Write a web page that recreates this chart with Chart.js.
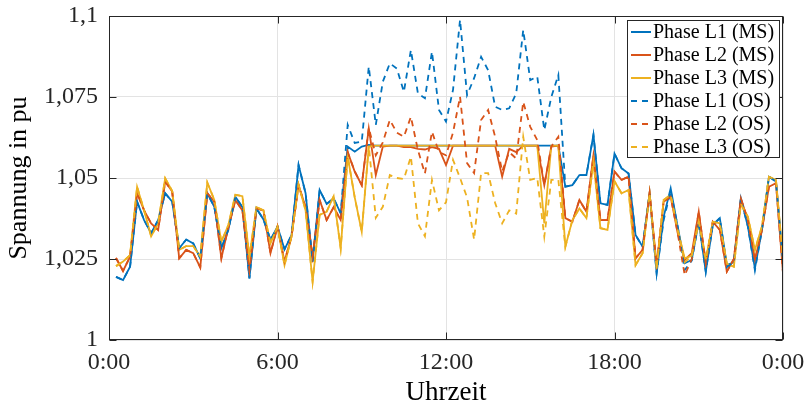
<!DOCTYPE html>
<html>
<head>
<meta charset="utf-8">
<script src="https://cdn.jsdelivr.net/npm/chart.js@4.4.1/dist/chart.umd.min.js"></script>
<style>
  html, body { margin: 0; padding: 0; background: #fff; }
</style>
</head>
<body>
<canvas id="voltageChart" width="808" height="410"></canvas>
<script>
"use strict";

// Tick labels of both axes
const xTickLabels = ["0:00", "6:00", "12:00", "18:00", "0:00"];
const yTickLabels = ["1", "1,025", "1,05", "1,075", "1,1"];

// Series names (legend order)
const seriesNames = [
  "Phase L1 (MS)", "Phase L2 (MS)", "Phase L3 (MS)",
  "Phase L1 (OS)", "Phase L2 (OS)", "Phase L3 (OS)"
];

// Voltage in pu, one value per 15 min, 0:15 ... 24:00 (8 values = 2 h per row)
const l1MS = [
  1.0195, 1.0185, 1.0226, 1.0427, 1.037, 1.033, 1.037, 1.0453,
  1.0427, 1.0283, 1.031, 1.0298, 1.0252, 1.0453, 1.0411, 1.0283,
  1.034, 1.0442, 1.041, 1.019, 1.0406, 1.0372, 1.0309, 1.035,
  1.028, 1.0324, 1.054, 1.0453, 1.0242, 1.0463, 1.042, 1.0437,
  1.0391, 1.0597, 1.0581, 1.0597, 1.0602, 1.06, 1.06, 1.06,
  1.06, 1.06, 1.06, 1.06, 1.06, 1.06, 1.06, 1.06,
  1.06, 1.06, 1.06, 1.06, 1.06, 1.06, 1.06, 1.06,
  1.06, 1.06, 1.06, 1.06, 1.06, 1.06, 1.06, 1.06,
  1.0473, 1.0478, 1.0509, 1.0509, 1.0633, 1.0422, 1.0417, 1.0575,
  1.053, 1.0514, 1.0324, 1.0288, 1.0453, 1.0206, 1.038, 1.0468,
  1.035, 1.0237, 1.0247, 1.0365, 1.0211, 1.0355, 1.0376, 1.0231,
  1.024, 1.0437, 1.035, 1.0221, 1.034, 1.0504, 1.0489, 1.0237
];

const l2MS = [
  1.0253, 1.0213, 1.0257, 1.0454, 1.040, 1.036, 1.034, 1.0489,
  1.0458, 1.0252, 1.0278, 1.0268, 1.0224, 1.0453, 1.0427, 1.0252,
  1.0348, 1.0432, 1.040, 1.0216, 1.0406, 1.040, 1.0268, 1.035,
  1.0242, 1.032, 1.0478, 1.041, 1.0257, 1.0432, 1.037, 1.041,
  1.037, 1.058, 1.052, 1.0478, 1.0653, 1.0509, 1.0597, 1.06,
  1.06, 1.0595, 1.0595, 1.059, 1.0588, 1.0595, 1.059, 1.054,
  1.06, 1.06, 1.06, 1.06, 1.06, 1.06, 1.06, 1.0504,
  1.059, 1.058, 1.06, 1.06, 1.06, 1.0478, 1.0597, 1.06,
  1.0376, 1.0365, 1.0432, 1.0396, 1.057, 1.037, 1.037, 1.052,
  1.0494, 1.0504, 1.0252, 1.0278, 1.0453, 1.0231, 1.0427, 1.0442,
  1.033, 1.0247, 1.0268, 1.0396, 1.0237, 1.0365, 1.034, 1.0211,
  1.025, 1.0437, 1.037, 1.0247, 1.034, 1.0473, 1.0484, 1.0206
];

const l3MS = [
  1.0228, 1.0242, 1.0262, 1.0473, 1.040, 1.032, 1.036, 1.0499,
  1.046, 1.0278, 1.029, 1.029, 1.0257, 1.0486, 1.0432, 1.0303,
  1.0355, 1.0448, 1.0444, 1.0257, 1.041, 1.040, 1.0298, 1.035,
  1.0231, 1.032, 1.048, 1.040, 1.018, 1.0386, 1.0396, 1.0444,
  1.0283, 1.0566, 1.044, 1.0334, 1.0597, 1.06, 1.06, 1.06,
  1.06, 1.06, 1.06, 1.06, 1.06, 1.06, 1.06, 1.06,
  1.06, 1.06, 1.06, 1.06, 1.06, 1.06, 1.06, 1.06,
  1.06, 1.06, 1.06, 1.06, 1.06, 1.036, 1.06, 1.06,
  1.0288, 1.037, 1.0406, 1.0376, 1.055, 1.0345, 1.034, 1.049,
  1.0453, 1.0463, 1.0231, 1.0268, 1.0453, 1.022, 1.0432, 1.0448,
  1.034, 1.0252, 1.026, 1.0365, 1.0247, 1.0365, 1.036, 1.0235,
  1.0226, 1.042, 1.038, 1.0278, 1.035, 1.0504, 1.0494, 1.0247
];

const l1OS = [
  1.0195, 1.0185, 1.0226, 1.0427, 1.037, 1.033, 1.037, 1.0453,
  1.0427, 1.0283, 1.031, 1.0298, 1.0252, 1.0453, 1.0411, 1.0283,
  1.034, 1.0442, 1.041, 1.019, 1.0406, 1.0372, 1.0309, 1.035,
  1.028, 1.0324, 1.054, 1.0453, 1.0242, 1.0463, 1.042, 1.0437,
  1.0391, 1.0664, 1.0608, 1.0612, 1.0844, 1.0664, 1.0797, 1.0854,
  1.0838, 1.0766, 1.0895, 1.0761, 1.0746, 1.089, 1.071, 1.0674,
  1.0772, 1.0988, 1.0756, 1.0808, 1.0874, 1.0833, 1.072, 1.071,
  1.0715, 1.0761, 1.0957, 1.0802, 1.0813, 1.0648, 1.075, 1.0818,
  1.0473, 1.0478, 1.0509, 1.0509, 1.0633, 1.0422, 1.0417, 1.0575,
  1.053, 1.0514, 1.0324, 1.0288, 1.0453, 1.0206, 1.037, 1.046,
  1.035, 1.0216, 1.0245, 1.0365, 1.0211, 1.0355, 1.0376, 1.0225,
  1.024, 1.0437, 1.035, 1.0215, 1.034, 1.0504, 1.0489, 1.0237
];

const l2OS = [
  1.0253, 1.0213, 1.0257, 1.0454, 1.040, 1.036, 1.034, 1.0489,
  1.0458, 1.0252, 1.0278, 1.0268, 1.0224, 1.0453, 1.0427, 1.0252,
  1.0348, 1.0432, 1.040, 1.0216, 1.0406, 1.040, 1.0268, 1.035,
  1.0242, 1.032, 1.0478, 1.041, 1.0257, 1.0432, 1.037, 1.041,
  1.037, 1.058, 1.052, 1.0478, 1.0655, 1.057, 1.061, 1.0679,
  1.064, 1.0627, 1.0689, 1.0586, 1.0514, 1.0643, 1.058, 1.057,
  1.064, 1.0751, 1.0546, 1.0515, 1.0679, 1.071, 1.0627, 1.052,
  1.058, 1.056, 1.0735, 1.0658, 1.0617, 1.0478, 1.0597, 1.0627,
  1.0376, 1.0365, 1.0432, 1.0396, 1.057, 1.037, 1.037, 1.052,
  1.0494, 1.0504, 1.0252, 1.0278, 1.0453, 1.0231, 1.0427, 1.0442,
  1.033, 1.020, 1.025, 1.0396, 1.0237, 1.0365, 1.034, 1.0211,
  1.025, 1.0437, 1.037, 1.0247, 1.034, 1.0473, 1.0484, 1.0206
];

const l3OS = [
  1.0228, 1.0242, 1.0262, 1.0473, 1.040, 1.032, 1.036, 1.0499,
  1.046, 1.0278, 1.029, 1.029, 1.0257, 1.0486, 1.0432, 1.0303,
  1.0355, 1.0448, 1.0444, 1.0257, 1.041, 1.040, 1.0298, 1.035,
  1.0231, 1.032, 1.048, 1.040, 1.018, 1.0386, 1.0396, 1.0444,
  1.0283, 1.0566, 1.044, 1.0334, 1.06, 1.0377, 1.0411, 1.0509,
  1.05, 1.0497, 1.0566, 1.036, 1.032, 1.0494, 1.040, 1.0425,
  1.0556, 1.050, 1.044, 1.031, 1.0515, 1.0515, 1.0423, 1.036,
  1.040, 1.039, 1.0627, 1.0494, 1.050, 1.0319, 1.0494, 1.0494,
  1.0288, 1.037, 1.0406, 1.0376, 1.055, 1.0345, 1.034, 1.049,
  1.0453, 1.0463, 1.0231, 1.0268, 1.0453, 1.022, 1.0432, 1.0448,
  1.034, 1.024, 1.026, 1.0365, 1.0247, 1.0365, 1.036, 1.0235,
  1.0226, 1.042, 1.038, 1.0278, 1.035, 1.0504, 1.0494, 1.0247
];

const FONT = "'Liberation Serif', 'DejaVu Serif', serif";
const AXIS_COLOR = "#262626";
const colors = ["#0072BD", "#D95319", "#EDB120"];

// x in hours: sample k sits at (k + 1) quarter hours
function toPoints(values) {
  return values.map((v, k) => ({ x: (k + 1) / 4, y: v }));
}

const seriesValues = [l1MS, l2MS, l3MS, l1OS, l2OS, l3OS];
const datasets = seriesValues.map((values, k) => ({
  label: seriesNames[k],
  data: toPoints(values),
  borderColor: colors[k % 3],
  borderWidth: 1.8,
  borderDash: k < 3 ? [] : [6, 5],
  pointRadius: 0,
  tension: 0,
  fill: false,
  order: 6 - k // later series on top, like the original
}));

// fixed axis sizes, no extra label padding so the plot box stays put
function fixScale(size) {
  return (scale) => {
    if (scale.isHorizontal()) scale.height = size;
    else scale.width = size;
    scale.paddingLeft = 0;
    scale.paddingRight = 0;
    scale.paddingTop = 0;
    scale.paddingBottom = 0;
  };
}

// Box around the axes, inward tick marks and the legend inside the plot
const axesFrame = {
  id: "axesFrame",
  afterDraw(chart) {
    const ctx = chart.ctx;
    const a = chart.chartArea;
    const xs = chart.scales.x;
    const ys = chart.scales.y;
    const L = Math.round(a.left) + 0.5, R = Math.round(a.right) - 0.5;
    const T = Math.round(a.top) + 0.5, B = Math.round(a.bottom) - 0.5;
    ctx.save();
    ctx.strokeStyle = AXIS_COLOR;
    ctx.lineWidth = 1;
    ctx.strokeRect(L, T, R - L, B - T);
    ctx.beginPath();
    [0, 6, 12, 18, 24].forEach((h) => {
      const px = Math.round(xs.getPixelForValue(h)) + 0.5;
      ctx.moveTo(px, B); ctx.lineTo(px, B - 7);
      ctx.moveTo(px, T); ctx.lineTo(px, T + 7);
    });
    [1, 1.025, 1.05, 1.075, 1.1].forEach((v) => {
      const py = Math.round(ys.getPixelForValue(v)) + 0.5;
      ctx.moveTo(L, py); ctx.lineTo(L + 7, py);
      ctx.moveTo(R, py); ctx.lineTo(R - 7, py);
    });
    ctx.stroke();

    // legend
    const x0 = Math.round(a.right) - 156, y0 = Math.round(a.top) + 4;
    const w = 153, h = 138;
    ctx.fillStyle = "#fff";
    ctx.fillRect(x0, y0, w, h);
    ctx.strokeStyle = AXIS_COLOR;
    ctx.strokeRect(x0 + 0.5, y0 + 0.5, w - 1, h - 1);
    ctx.font = "20px " + FONT;
    ctx.textBaseline = "middle";
    chart.data.datasets.forEach((ds, k) => {
      const y = y0 + 12 + k * 23;
      ctx.strokeStyle = ds.borderColor;
      ctx.lineWidth = 2;
      ctx.setLineDash(ds.borderDash);
      ctx.beginPath();
      ctx.moveTo(x0 + 4, y);
      ctx.lineTo(x0 + 24, y);
      ctx.stroke();
      ctx.setLineDash([]);
      ctx.fillStyle = "#000";
      ctx.fillText(ds.label, x0 + 26, y + 1);
    });
    ctx.restore();
  }
};

new Chart(document.getElementById("voltageChart"), {
  type: "line",
  data: { datasets: datasets },
  plugins: [axesFrame],
  options: {
    responsive: false,
    animation: false,
    layout: { padding: { top: 16, right: 25, left: 0, bottom: 0 } },
    plugins: { legend: { display: false }, tooltip: { enabled: false } },
    scales: {
      x: {
        type: "linear",
        min: 0,
        max: 24,
        afterFit: fixScale(70),
        ticks: {
          stepSize: 6,
          maxRotation: 0,
          padding: 8,
          color: AXIS_COLOR,
          font: { family: FONT, size: 24 },
          callback: (value, index) => xTickLabels[index]
        },
        grid: { color: "#e3e3e3", drawTicks: false },
        border: { display: false },
        title: {
          display: true,
          text: "Uhrzeit",
          color: "#000",
          font: { family: FONT, size: 27 },
          padding: { top: 0, bottom: 1 }
        }
      },
      y: {
        min: 1,
        max: 1.1,
        afterFit: fixScale(109),
        ticks: {
          stepSize: 0.025,
          padding: 11,
          color: AXIS_COLOR,
          font: { family: FONT, size: 24 },
          callback: (value, index) => yTickLabels[index]
        },
        grid: { color: "#e3e3e3", drawTicks: false },
        border: { display: false },
        title: {
          display: true,
          text: "Spannung in pu",
          color: "#000",
          font: { family: FONT, size: 26 },
          padding: { top: 4, bottom: 0 }
        }
      }
    }
  }
});
</script>
</body>
</html>
